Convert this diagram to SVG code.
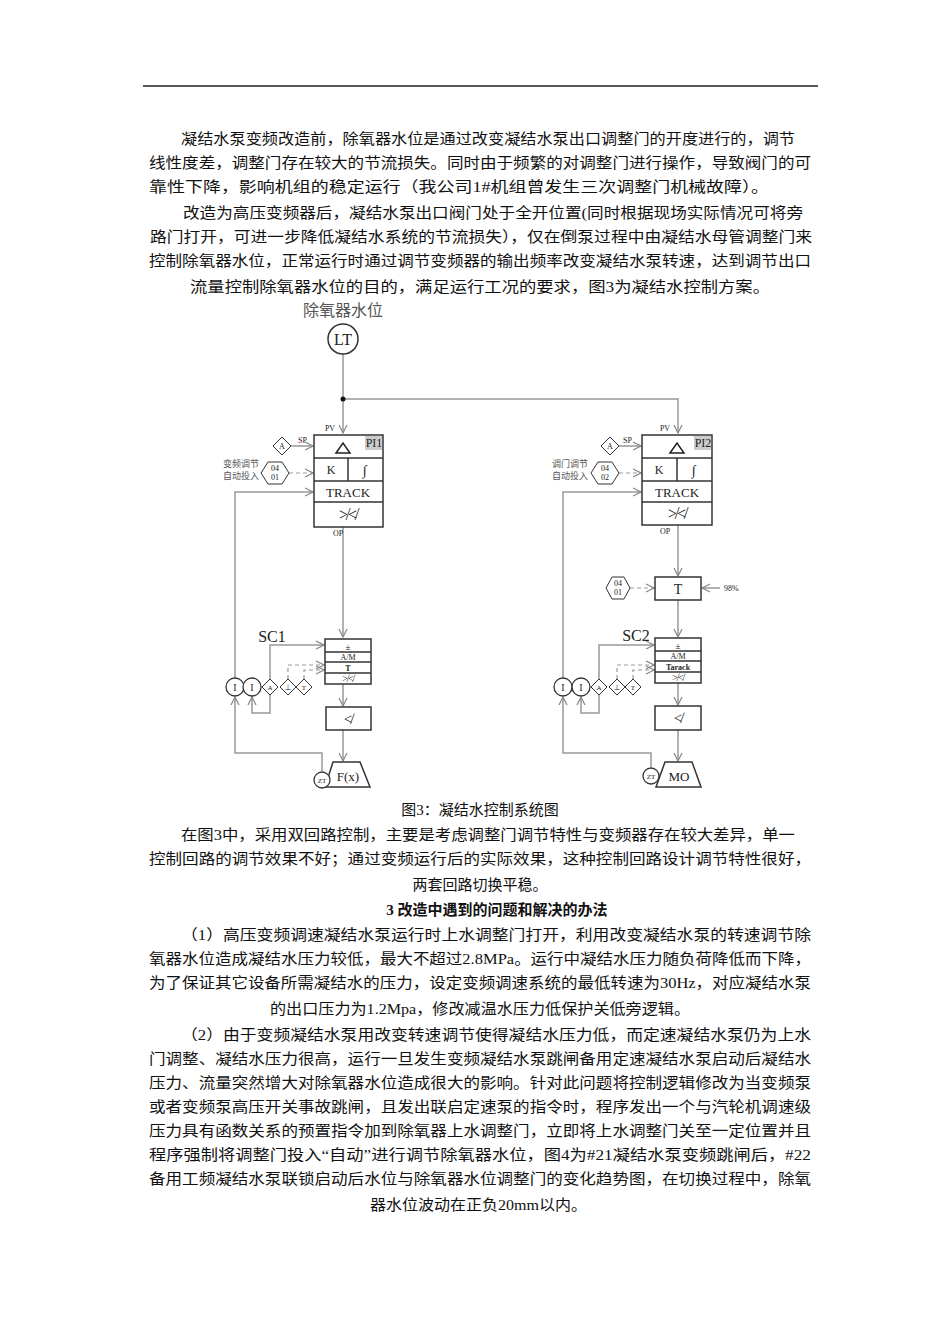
<svg xmlns="http://www.w3.org/2000/svg" width="950" height="1344" viewBox="0 0 950 1344">
<style>
.t{font-family:"Liberation Serif","Noto Sans CJK SC",serif;font-size:15px;fill:#111}
.d{font-family:"Liberation Serif","Noto Sans CJK SC",serif;fill:#222}
.s{font-family:"Noto Sans CJK SC",sans-serif;fill:#555}
.ln{stroke:#999;stroke-width:1.5;fill:none}
.ds{stroke:#999;stroke-width:1.2;fill:none;stroke-dasharray:4 3}
.bx{stroke:#333;stroke-width:1.5;fill:#fff}
</style>
<defs>
<marker id="a" markerWidth="10" markerHeight="10" refX="9" refY="5" orient="auto" markerUnits="userSpaceOnUse"><path d="M1,1 L9,5 L1,9" fill="none" stroke="#888" stroke-width="1.2"/></marker>
</defs>
<rect width="950" height="1344" fill="#fff"/>
<line x1="143" y1="86" x2="818" y2="86" stroke="#222" stroke-width="1.5"/>
<g id="para1">
<text class="t" x="181" y="144" textLength="614" lengthAdjust="spacingAndGlyphs">凝结水泵变频改造前，除氧器水位是通过改变凝结水泵出口调整门的开度进行的，调节</text>
<text class="t" x="149" y="168" textLength="662" lengthAdjust="spacingAndGlyphs">线性度差，调整门存在较大的节流损失。同时由于频繁的对调整门进行操作，导致阀门的可</text>
<text class="t" x="149" y="192" textLength="620" lengthAdjust="spacingAndGlyphs">靠性下降，影响机组的稳定运行（我公司1#机组曾发生三次调整门机械故障）。</text>
<text class="t" x="183" y="218" textLength="620" lengthAdjust="spacingAndGlyphs">改造为高压变频器后，凝结水泵出口阀门处于全开位置(同时根据现场实际情况可将旁</text>
<text class="t" x="150" y="242" textLength="662" lengthAdjust="spacingAndGlyphs">路门打开，可进一步降低凝结水系统的节流损失），仅在倒泵过程中由凝结水母管调整门来</text>
<text class="t" x="149" y="266" textLength="662" lengthAdjust="spacingAndGlyphs">控制除氧器水位，正常运行时通过调节变频器的输出频率改变凝结水泵转速，达到调节出口</text>
<text class="t" x="190" y="292" textLength="580" lengthAdjust="spacingAndGlyphs">流量控制除氧器水位的目的，满足运行工况的要求，图3为凝结水控制方案。</text>
</g>
<g id="connectors">
<path class="ln" d="M343,354 V399 H678 V433" marker-end="url(#a)"/>
<path class="ln" d="M343,399 V433" marker-end="url(#a)"/>
<circle cx="343" cy="399" r="2.5" fill="#111"/>
<path class="ln" d="M290,446 H313" marker-end="url(#a)"/>
<path class="ds" d="M289,473 H313" marker-end="url(#a)"/>
<path class="ln" d="M235,678 V492 H313" marker-end="url(#a)"/>
<path class="ln" d="M343,527 V637" marker-end="url(#a)"/>
<path class="ln" d="M270,679 V645 H324" marker-end="url(#a)"/>
<path class="ln" d="M270,695 V713 H252 V697" marker-end="url(#a)"/>
<path class="ds" d="M288,679 V665 H324" marker-end="url(#a)"/>
<path class="ds" d="M304,679 V670 H324" marker-end="url(#a)"/>
<path class="ln" d="M343,684 V706" marker-end="url(#a)"/>
<path class="ln" d="M343,730 V761" marker-end="url(#a)"/>
<path class="ln" d="M322,771 V753 H235 V697" marker-end="url(#a)"/>
<path class="ln" d="M619,446 H641" marker-end="url(#a)"/>
<path class="ds" d="M619,473 H641" marker-end="url(#a)"/>
<path class="ln" d="M563,678 V492 H641" marker-end="url(#a)"/>
<path class="ln" d="M678,525 V576" marker-end="url(#a)"/>
<path class="ds" d="M630,588 H654" marker-end="url(#a)"/>
<path class="ln" d="M720,588 H702" marker-end="url(#a)"/>
<path class="ln" d="M678,600 V637" marker-end="url(#a)"/>
<path class="ln" d="M599,679 V645 H654" marker-end="url(#a)"/>
<path class="ln" d="M599,695 V713 H581 V697" marker-end="url(#a)"/>
<path class="ds" d="M617,679 V665 H654" marker-end="url(#a)"/>
<path class="ds" d="M633,679 V670 H654" marker-end="url(#a)"/>
<path class="ln" d="M678,683 V705" marker-end="url(#a)"/>
<path class="ln" d="M678,730 V761" marker-end="url(#a)"/>
<path class="ln" d="M651,767 V753 H563 V697" marker-end="url(#a)"/>
</g>
<g id="LT">
<text class="s" x="343" y="316" font-size="16" text-anchor="middle" fill="#444">除氧器水位</text>
<circle cx="343" cy="339" r="15" fill="#fff" stroke="#333" stroke-width="1.5"/>
<text class="d" x="343" y="345" font-size="16" text-anchor="middle">LT</text>
</g>
<g id="PI1">
<text class="d" x="330" y="431" font-size="8" text-anchor="middle">PV</text>
<rect class="bx" x="314" y="435" width="69" height="92"/>
<rect x="365" y="436" width="17" height="14" fill="#ccc"/>
<text class="d" x="374" y="447" font-size="12" text-anchor="middle">PI1</text>
<path d="M336,453 L343,443 L350,453 Z" fill="none" stroke="#222" stroke-width="1.5"/>
<line x1="314" y1="458" x2="383" y2="458" stroke="#333" stroke-width="1.5"/>
<line x1="348" y1="458" x2="348" y2="481" stroke="#333" stroke-width="1.5"/>
<text class="d" x="331" y="474" font-size="12" text-anchor="middle">K</text>
<text class="d" x="365" y="475" font-size="14" text-anchor="middle">∫</text>
<line x1="314" y1="481" x2="383" y2="481" stroke="#333" stroke-width="1.5"/>
<text class="d" x="348" y="497" font-size="13" text-anchor="middle">TRACK</text>
<line x1="314" y1="502" x2="383" y2="502" stroke="#333" stroke-width="1.5"/>
<text class="d" x="348" y="520" font-size="16" text-anchor="middle">≯≮</text>
<text class="d" x="338" y="536" font-size="8" text-anchor="middle">OP</text>
<path d="M282,437 L291,446 L282,455 L273,446 Z" fill="#fff" stroke="#333"/>
<text class="d" x="282" y="449" font-size="8" text-anchor="middle">A</text>
<text class="d" x="298" y="443" font-size="8">SP</text>
<path d="M268,462 H282 L289,473 L282,484 H268 L261,473 Z" fill="#fff" stroke="#333"/>
<text class="d" x="275" y="471" font-size="8" text-anchor="middle">04</text>
<text class="d" x="275" y="480" font-size="8" text-anchor="middle">01</text>
<text class="s" x="259" y="467" font-size="9" text-anchor="end">变频调节</text>
<text class="s" x="259" y="479" font-size="9" text-anchor="end">自动投入</text>
</g>
<g id="SC1">
<text class="d" x="272" y="642" font-size="16" text-anchor="middle">SC1</text>
<rect class="bx" x="325" y="639" width="46" height="45"/>
<path d="M325,652 H371 M325,662 H371 M325,673 H371" stroke="#333" stroke-width="1.5"/>
<text class="d" x="348" y="650" font-size="9" text-anchor="middle">±</text>
<text class="d" x="348" y="660" font-size="8" text-anchor="middle">A/M</text>
<text class="d" x="348" y="671" font-size="8" font-weight="bold" text-anchor="middle">T</text>
<text class="d" x="348" y="682" font-size="10" text-anchor="middle">≯≮</text>
<circle cx="235" cy="687" r="9" fill="#fff" stroke="#333" stroke-width="1.3"/>
<text class="d" x="235" y="691" font-size="10" text-anchor="middle">I</text>
<circle cx="252" cy="687" r="9" fill="#fff" stroke="#333" stroke-width="1.3"/>
<text class="d" x="252" y="691" font-size="10" text-anchor="middle">I</text>
<path d="M270,679 L278,687 L270,695 L262,687 Z M288,679 L296,687 L288,695 L280,687 Z M304,679 L312,687 L304,695 L296,687 Z" fill="#fff" stroke="#333"/>
<text class="d" x="270" y="690" font-size="7" text-anchor="middle">A</text>
<text class="d" x="288" y="690" font-size="7" text-anchor="middle">⊥</text>
<text class="d" x="304" y="690" font-size="7" text-anchor="middle">T</text>
<rect class="bx" x="326" y="707" width="45" height="23"/>
<text class="d" x="348" y="724" font-size="15" text-anchor="middle">≮</text>
<path d="M333,762 H360 L370,787 H325 Z" class="bx"/>
<text class="d" x="348" y="781" font-size="13" text-anchor="middle">F(x)</text>
<circle cx="322" cy="780" r="8" fill="#fff" stroke="#333" stroke-width="1.3"/>
<text class="d" x="322" y="783" font-size="7" text-anchor="middle">ZT</text>
</g>
<g id="PI2">
<text class="d" x="665" y="431" font-size="8" text-anchor="middle">PV</text>
<rect class="bx" x="642" y="435" width="70" height="90"/>
<rect x="694" y="436" width="17" height="14" fill="#ccc"/>
<text class="d" x="703" y="447" font-size="12" text-anchor="middle">PI2</text>
<path d="M670,453 L677,443 L684,453 Z" fill="none" stroke="#222" stroke-width="1.5"/>
<line x1="642" y1="458" x2="712" y2="458" stroke="#333" stroke-width="1.5"/>
<line x1="677" y1="458" x2="677" y2="481" stroke="#333" stroke-width="1.5"/>
<text class="d" x="659" y="474" font-size="12" text-anchor="middle">K</text>
<text class="d" x="694" y="475" font-size="14" text-anchor="middle">∫</text>
<line x1="642" y1="481" x2="712" y2="481" stroke="#333" stroke-width="1.5"/>
<text class="d" x="677" y="497" font-size="13" text-anchor="middle">TRACK</text>
<line x1="642" y1="502" x2="712" y2="502" stroke="#333" stroke-width="1.5"/>
<text class="d" x="677" y="519" font-size="16" text-anchor="middle">≯≮</text>
<text class="d" x="665" y="534" font-size="8" text-anchor="middle">OP</text>
<path d="M610,437 L619,446 L610,455 L601,446 Z" fill="#fff" stroke="#333"/>
<text class="d" x="610" y="449" font-size="8" text-anchor="middle">A</text>
<text class="d" x="623" y="443" font-size="8">SP</text>
<path d="M598,462 H612 L619,473 L612,484 H598 L591,473 Z" fill="#fff" stroke="#333"/>
<text class="d" x="605" y="471" font-size="8" text-anchor="middle">04</text>
<text class="d" x="605" y="480" font-size="8" text-anchor="middle">02</text>
<text class="s" x="588" y="467" font-size="9" text-anchor="end">调门调节</text>
<text class="s" x="588" y="479" font-size="9" text-anchor="end">自动投入</text>
</g>
<g id="T2">
<rect class="bx" x="655" y="577" width="46" height="23"/>
<text class="d" x="678" y="594" font-size="14" text-anchor="middle">T</text>
<path d="M612,577 H624 L630,588 L624,599 H612 L606,588 Z" fill="#fff" stroke="#333"/>
<text class="d" x="618" y="586" font-size="8" text-anchor="middle">04</text>
<text class="d" x="618" y="595" font-size="8" text-anchor="middle">01</text>
<text class="d" x="724" y="591" font-size="8">98%</text>
</g>
<g id="SC2">
<text class="d" x="636" y="641" font-size="16" text-anchor="middle">SC2</text>
<rect class="bx" x="655" y="638" width="46" height="45"/>
<path d="M655,651 H701 M655,661 H701 M655,672 H701" stroke="#333" stroke-width="1.5"/>
<text class="d" x="678" y="649" font-size="9" text-anchor="middle">±</text>
<text class="d" x="678" y="659" font-size="8" text-anchor="middle">A/M</text>
<text class="d" x="678" y="670" font-size="8" font-weight="bold" text-anchor="middle">Tarack</text>
<text class="d" x="678" y="681" font-size="10" text-anchor="middle">≯≮</text>
<circle cx="563" cy="687" r="9" fill="#fff" stroke="#333" stroke-width="1.3"/>
<text class="d" x="563" y="691" font-size="10" text-anchor="middle">I</text>
<circle cx="581" cy="687" r="9" fill="#fff" stroke="#333" stroke-width="1.3"/>
<text class="d" x="581" y="691" font-size="10" text-anchor="middle">I</text>
<path d="M599,679 L607,687 L599,695 L591,687 Z M617,679 L625,687 L617,695 L609,687 Z M633,679 L641,687 L633,695 L625,687 Z" fill="#fff" stroke="#333"/>
<text class="d" x="599" y="690" font-size="7" text-anchor="middle">A</text>
<text class="d" x="617" y="690" font-size="7" text-anchor="middle">⊥</text>
<text class="d" x="633" y="690" font-size="7" text-anchor="middle">T</text>
<rect class="bx" x="655" y="706" width="46" height="24"/>
<text class="d" x="678" y="723" font-size="15" text-anchor="middle">≮</text>
<path d="M665,762 H692 L701,787 H656 Z" class="bx"/>
<text class="d" x="679" y="781" font-size="13" text-anchor="middle">MO</text>
<circle cx="651" cy="776" r="8" fill="#fff" stroke="#333" stroke-width="1.3"/>
<text class="d" x="651" y="779" font-size="7" text-anchor="middle">ZT</text>
</g>
<g id="para2">
<text class="t" x="480" y="815" text-anchor="middle">图3：凝结水控制系统图</text>
<text class="t" x="181" y="840" textLength="614" lengthAdjust="spacingAndGlyphs">在图3中，采用双回路控制，主要是考虑调整门调节特性与变频器存在较大差异，单一</text>
<text class="t" x="149" y="864" textLength="662" lengthAdjust="spacingAndGlyphs">控制回路的调节效果不好；通过变频运行后的实际效果，这种控制回路设计调节特性很好，</text>
<text class="t" x="480" y="890" text-anchor="middle">两套回路切换平稳。</text>
<text class="t" x="497" y="915" text-anchor="middle" font-weight="bold">3 改造中遇到的问题和解决的办法</text>
<text class="t" x="181" y="940" textLength="630" lengthAdjust="spacingAndGlyphs">（1）高压变频调速凝结水泵运行时上水调整门打开，利用改变凝结水泵的转速调节除</text>
<text class="t" x="149" y="964" textLength="662" lengthAdjust="spacingAndGlyphs">氧器水位造成凝结水压力较低，最大不超过2.8MPa。运行中凝结水压力随负荷降低而下降，</text>
<text class="t" x="149" y="988" textLength="662" lengthAdjust="spacingAndGlyphs">为了保证其它设备所需凝结水的压力，设定变频调速系统的最低转速为30Hz，对应凝结水泵</text>
<text class="t" x="270" y="1014" textLength="420" lengthAdjust="spacingAndGlyphs">的出口压力为1.2Mpa，修改减温水压力低保护关低旁逻辑。</text>
<text class="t" x="181" y="1040" textLength="630" lengthAdjust="spacingAndGlyphs">（2）由于变频凝结水泵用改变转速调节使得凝结水压力低，而定速凝结水泵仍为上水</text>
<text class="t" x="149" y="1064" textLength="662" lengthAdjust="spacingAndGlyphs">门调整、凝结水压力很高，运行一旦发生变频凝结水泵跳闸备用定速凝结水泵启动后凝结水</text>
<text class="t" x="149" y="1088" textLength="662" lengthAdjust="spacingAndGlyphs">压力、流量突然增大对除氧器水位造成很大的影响。针对此问题将控制逻辑修改为当变频泵</text>
<text class="t" x="149" y="1112" textLength="662" lengthAdjust="spacingAndGlyphs">或者变频泵高压开关事故跳闸，且发出联启定速泵的指令时，程序发出一个与汽轮机调速级</text>
<text class="t" x="149" y="1136" textLength="662" lengthAdjust="spacingAndGlyphs">压力具有函数关系的预置指令加到除氧器上水调整门，立即将上水调整门关至一定位置并且</text>
<text class="t" x="149" y="1160" textLength="662" lengthAdjust="spacingAndGlyphs">程序强制将调整门投入“自动”进行调节除氧器水位，图4为#21凝结水泵变频跳闸后，#22</text>
<text class="t" x="149" y="1184" textLength="662" lengthAdjust="spacingAndGlyphs">备用工频凝结水泵联锁启动后水位与除氧器水位调整门的变化趋势图，在切换过程中，除氧</text>
<text class="t" x="370" y="1210" textLength="217" lengthAdjust="spacingAndGlyphs">器水位波动在正负20mm以内。</text>
</g>
</svg>
